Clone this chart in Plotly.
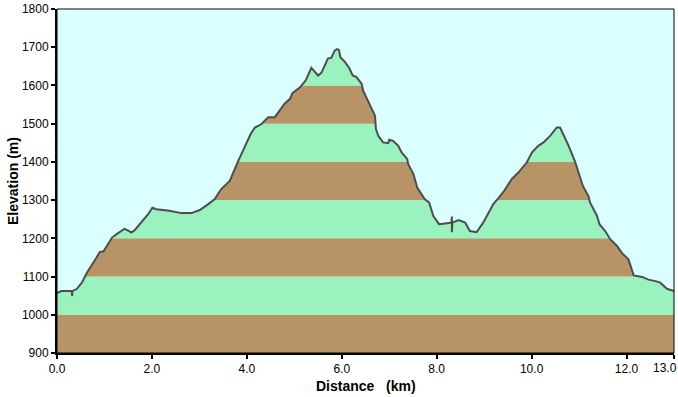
import plotly.graph_objects as go

distance_km = [0.00, 0.09, 0.31, 0.32, 0.32, 0.33, 0.42, 0.53, 0.63, 0.83, 0.90, 0.98, 1.16, 1.28,
               1.42, 1.49, 1.57, 1.64, 1.83, 1.92, 2.01, 2.09, 2.37, 2.62, 2.83, 3.01, 3.18,
               3.32, 3.46, 3.64, 3.81, 3.96, 4.08, 4.17, 4.31, 4.45, 4.59, 4.69, 4.80, 4.91,
               4.96, 5.12, 5.24, 5.36, 5.50, 5.57, 5.71, 5.78, 5.85, 5.90, 5.94, 5.97, 6.07,
               6.16, 6.23, 6.31, 6.42, 6.45, 6.59, 6.70, 6.72, 6.77, 6.87, 6.98, 7.00, 7.08,
               7.19, 7.26, 7.38, 7.40, 7.51, 7.59, 7.75, 7.84, 7.93, 8.05, 8.18, 8.31, 8.32,
               8.32, 8.33, 8.46, 8.60, 8.70, 8.84, 8.98, 9.19, 9.30, 9.41, 9.58, 9.72, 9.90,
               10.01, 10.14, 10.25, 10.39, 10.53, 10.60, 10.67, 10.78, 10.92, 10.99, 11.08,
               11.20, 11.23, 11.38, 11.43, 11.55, 11.66, 11.80, 11.90, 12.04, 12.11, 12.15,
               12.33, 12.46, 12.61, 12.71, 12.85, 13.00]
elevation_m = [1057, 1062, 1062, 1049, 1062, 1062, 1068, 1085, 1110, 1149, 1164, 1166, 1202, 1213,
               1225, 1221, 1215, 1222, 1248, 1263, 1280, 1276, 1272, 1266, 1266, 1274, 1289,
               1302, 1329, 1350, 1400, 1442, 1473, 1490, 1499, 1517, 1517, 1534, 1553, 1565,
               1580, 1595, 1613, 1646, 1626, 1633, 1671, 1672, 1691, 1695, 1693, 1674, 1661,
               1645, 1626, 1622, 1604, 1586, 1547, 1521, 1486, 1468, 1451, 1449, 1458, 1455,
               1442, 1425, 1407, 1394, 1368, 1333, 1302, 1294, 1258, 1237, 1239, 1241, 1257,
               1216, 1241, 1248, 1241, 1219, 1216, 1241, 1289, 1305, 1322, 1355, 1372, 1399,
               1425, 1442, 1451, 1468, 1490, 1490, 1473, 1442, 1399, 1372, 1337,
               1310, 1294, 1258, 1237, 1219, 1197, 1180, 1162, 1145, 1114, 1103,
               1099, 1092, 1088, 1084, 1068, 1062]

x_ticks = [0.0, 2.0, 4.0, 6.0, 8.0, 10.0, 12.0, 13.0]
y_ticks = [900, 1000, 1100, 1200, 1300, 1400, 1500, 1600, 1700, 1800]
band_edges = [900, 1000, 1100, 1200, 1300, 1400, 1500, 1600, 1700, 1800]
band_colors = ["#B89366", "#9AF2BE"]
x_title = "Distance\u00a0\u00a0\u00a0(km)"
y_title = "Elevation (m)"

SKY = "#DBFEFE"
X_MIN, X_MAX = 0.0, 13.0
Y_MIN, Y_MAX = 900, 1800
FAM = "Liberation Sans, Arial, sans-serif"

fig = go.Figure()

shapes = []
for i in range(len(band_edges) - 1):
    shapes.append(dict(type="rect", xref="x", yref="y", x0=X_MIN, x1=X_MAX,
                       y0=band_edges[i], y1=band_edges[i + 1],
                       fillcolor=band_colors[i % 2], line=dict(width=0), layer="below"))

# sky polygon above the profile
sky_x = distance_km + [X_MAX, X_MIN]
sky_y = elevation_m + [Y_MAX, Y_MAX]
fig.add_trace(go.Scatter(x=sky_x, y=sky_y, fill="toself", fillcolor=SKY, mode="none",
                         hoverinfo="skip", showlegend=False))
fig.add_trace(go.Scatter(x=distance_km, y=elevation_m, mode="lines",
                         line=dict(color="#4D4D4D", width=2), showlegend=False))

# frame (top/right thin lines)
shapes.append(dict(type="rect", xref="paper", yref="paper", x0=0, x1=1, y0=0, y1=1,
                   line=dict(color="black", width=1), fillcolor="rgba(0,0,0,0)", layer="above"))

tick_text = [f"{v:.1f}" for v in x_ticks]
tick_text_axis = tick_text[:-1] + [""]

annotations = [
    dict(text=f"<b>{x_title}</b>", xref="paper", yref="paper", x=0.5, y=0,
         xanchor="center", yanchor="top", yshift=-23, showarrow=False,
         font=dict(size=14, family=FAM, color="black")),
    dict(text=f"<b>{y_title}</b>", xref="paper", yref="paper", x=0, y=0.5,
         xanchor="right", yanchor="middle", xshift=-34, textangle=-90, showarrow=False,
         font=dict(size=14, family=FAM, color="black")),
    dict(text=tick_text[-1], xref="x", yref="paper", x=x_ticks[-1], y=0,
         xanchor="right", yanchor="top", xshift=5, yshift=-6, showarrow=False,
         font=dict(size=12, family=FAM, color="black")),
]

fig.update_layout(
    width=678, height=397,
    margin=dict(l=57, r=4, t=9, b=44, autoexpand=False),
    paper_bgcolor="white", plot_bgcolor=SKY,
    shapes=shapes, annotations=annotations,
    font=dict(family=FAM, size=12, color="black"),
    xaxis=dict(range=[X_MIN, X_MAX], tickvals=x_ticks, ticktext=tick_text_axis,
               showgrid=False, zeroline=False, showline=True, linecolor="black", linewidth=2,
               ticks="outside", ticklen=4, tickwidth=2, tickcolor="black", automargin=False),
    yaxis=dict(range=[Y_MIN, Y_MAX], tickvals=y_ticks, ticktext=[str(v) for v in y_ticks],
               showgrid=False, zeroline=False, showline=True, linecolor="black", linewidth=2,
               ticks="outside", ticklen=4, tickwidth=2, tickcolor="black", automargin=False),
)

fig.write_html("out.html", config={"displayModeBar": False},
               post_script="document.body.style.margin='0';document.body.style.overflow='hidden';")
